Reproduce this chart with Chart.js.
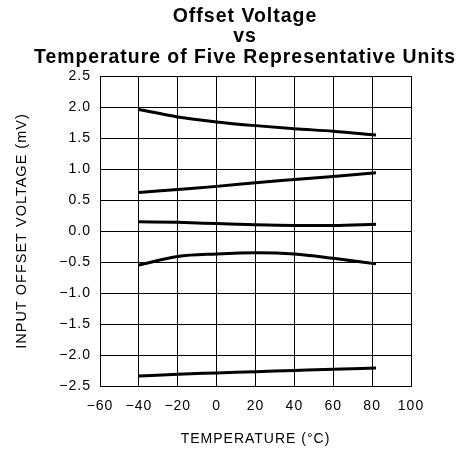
<!DOCTYPE html>
<html>
<head>
<meta charset="utf-8">
<script src="https://cdn.jsdelivr.net/npm/chart.js@4"></script>
<style>
  html, body { margin: 0; padding: 0; background: #fff; }
  #wrap { width: 464px; height: 462px; }
</style>
</head>
<body>
<div id="wrap"><canvas id="myChart" width="464" height="462"></canvas></div>
<script>
// temperature (°C) at which the curves were read
var temps = [-40, -20, 0, 20, 40, 60, 82]
// offset voltage (mV) of the five units
var unit1 = [1.96, 1.84, 1.76, 1.70, 1.65, 1.61, 1.55]
var unit2 = [0.62, 0.67, 0.72, 0.78, 0.83, 0.88, 0.94]
var unit3 = [0.15, 0.14, 0.12, 0.10, 0.09, 0.09, 0.11]
var unit4 = [-0.55, -0.41, -0.37, -0.35, -0.37, -0.44, -0.53]
var unit5 = [-2.34, -2.31, -2.29, -2.27, -2.25, -2.23, -2.21]
var units = [unit1, unit2, unit3, unit4, unit5]

var titleLines = ['Offset Voltage', 'vs', 'Temperature of Five Representative Units']
var xTitle = 'TEMPERATURE (\u00B0C)'
var yTitle = 'INPUT OFFSET VOLTAGE (mV)'

function to_points(values){
	var pts = []
	for (var i = 0; i < temps.length; i++){
		pts.push({x: temps[i], y: values[i]})
	}
	return pts
}

function minus(str){
	return String(str).replace('-', '\u2212')
}

// the reference text is set a little loose
var spacing = {
	id: 'spacing',
	beforeLayout: function(chart){ chart.ctx.letterSpacing = '1px' },
	beforeDraw: function(chart){ chart.ctx.letterSpacing = '1px' }
}

var datasets = units.map(function(u, i){
	return {
		label: 'Unit ' + (i + 1),
		data: to_points(u),
		borderColor: '#000',
		borderWidth: 3,
		pointRadius: 0,
		fill: false,
		cubicInterpolationMode: 'monotone'
	}
})

var ctx = document.getElementById('myChart').getContext('2d');
var myChart = new Chart(ctx, {
	type: 'line',
	data: { datasets: datasets },
	plugins: [spacing],
	options: {
		responsive: false,
		animation: false,
		// uneven padding moves the title centre a bit right, like the original
		layout: { padding: { left: 34, right: 8, top: 0, bottom: 0 } },
		plugins: {
			legend: { display: false },
			tooltip: { enabled: false },
			title: {
				display: true,
				text: titleLines,
				color: '#000',
				font: { family: 'Liberation Sans, Arial, sans-serif', size: 19.5, weight: 'bold', lineHeight: 1.05 },
				padding: { top: 6, bottom: 8.6 }
			}
		},
		scales: {
			x: {
				type: 'linear',
				min: -60,
				max: 100,
				afterFit: function(scale){ scale.height = 76 },
				ticks: {
					stepSize: 20,
					color: '#000',
					padding: 12,
					font: { family: 'Liberation Sans, Arial, sans-serif', size: 14 },
					callback: function(v){ return minus(v) }
				},
				grid: { color: '#000', lineWidth: 1, drawTicks: false },
				border: { color: '#000', width: 1 },
				title: {
					display: true,
					text: xTitle,
					color: '#000',
					font: { family: 'Liberation Sans, Arial, sans-serif', size: 14 },
					padding: { top: 0, bottom: 14 }
				}
			},
			y: {
				min: -2.5,
				max: 2.5,
				afterFit: function(scale){ scale.width = 66 },
				ticks: {
					stepSize: 0.5,
					color: '#000',
					padding: 9,
					font: { family: 'Liberation Sans, Arial, sans-serif', size: 14 },
					callback: function(v){ return minus(v.toFixed(1)) }
				},
				grid: { color: '#000', lineWidth: 1, drawTicks: false },
				border: { color: '#000', width: 1 },
				title: {
					display: true,
					text: yTitle,
					color: '#000',
					font: { family: 'Liberation Sans, Arial, sans-serif', size: 14.5 },
					padding: { top: -21, bottom: 0 }
				}
			},
			// empty right-hand strip so the plot ends where the original does
			spacer: {
				type: 'linear',
				position: 'right',
				display: true,
				afterFit: function(scale){ scale.width = 45 },
				ticks: { display: false },
				grid: { display: false },
				border: { display: false }
			}
		}
	}
});
</script>
</body>
</html>
